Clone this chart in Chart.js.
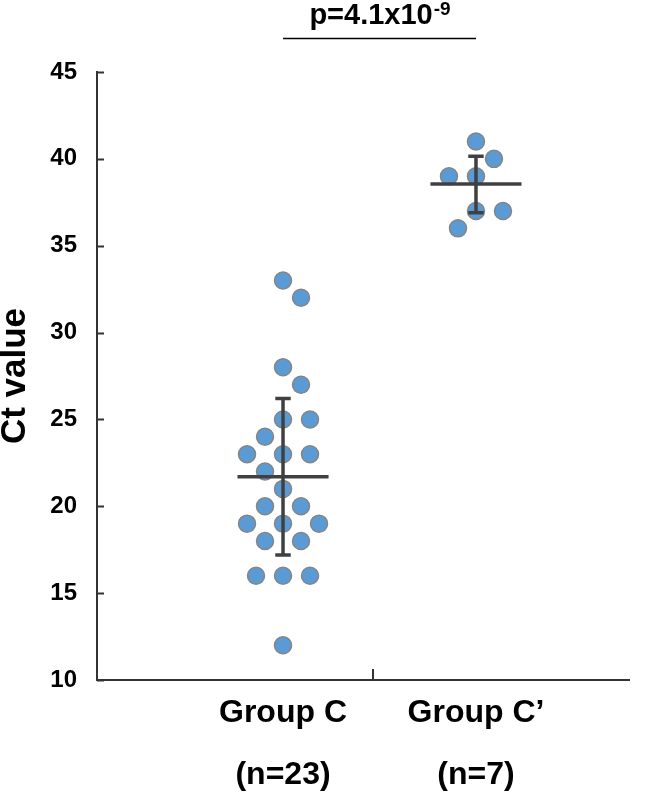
<!DOCTYPE html>
<html>
<head>
<meta charset="utf-8">
<script src="https://cdn.jsdelivr.net/npm/chart.js@4.4.1/dist/chart.umd.min.js"></script>
<style>
  html, body { margin: 0; padding: 0; background: #fff; }
  canvas { display: block; }
</style>
</head>
<body>
<canvas id="ct-chart" width="653" height="795"></canvas>
<script>
// ─── DATA ─────────────────────────────────────────────────────────────────────
const groupNames  = ['Group C', 'Group C\u2019'];
const groupCounts = ['(n=23)', '(n=7)'];
const groupC      = [33, 32, 28, 27, 25, 25, 24, 23, 23, 23, 22, 21, 20, 20, 19, 19, 19, 18, 18, 16, 16, 16, 12];
const groupCprime = [41, 40, 39, 39, 37, 37, 36];
const groupMeans  = [21.7, 38.55];
const sdLow       = [17.2, 36.9];
const sdHigh      = [26.2, 40.15];
const yTicks      = [10, 15, 20, 25, 30, 35, 40, 45];
const pText       = 'p=4.1x10';
const pExponent   = '-9';

const FONT = '"Liberation Sans", Arial, Helvetica, sans-serif';
const INK  = '#404040';
const MEAN_HALF = 0.236;   // half width of mean bar, x units
const CAP_HALF  = 0.04;    // half width of SD caps, x units
const MID_TICK  = 1.466;   // the single x-axis tick between the groups

const allGroups = [groupC, groupCprime];

// mean + SD bars as line datasets (null breaks the path)
function meanSdData(i) {
  const c = i + 1;
  return [
    { x: c - MEAN_HALF, y: groupMeans[i] }, { x: c + MEAN_HALF, y: groupMeans[i] }, { x: c, y: null },
    { x: c - CAP_HALF, y: sdHigh[i] }, { x: c + CAP_HALF, y: sdHigh[i] }, { x: c, y: null },
    { x: c, y: sdHigh[i] }, { x: c, y: sdLow[i] }, { x: c, y: null },
    { x: c - CAP_HALF, y: sdLow[i] }, { x: c + CAP_HALF, y: sdLow[i] },
  ];
}

// simple beeswarm in pixel space so dots at close values spread sideways
function swarm(values, center, chart, diam, step) {
  const xs = chart.scales.x, ys = chart.scales.y;
  const cx = xs.getPixelForValue(center);
  const placed = [];
  const out = new Array(values.length);
  const order = values.map((v, i) => i).sort((a, b) => values[b] - values[a]);
  order.forEach(i => {
    const py = ys.getPixelForValue(values[i]);
    for (let k = 0; k < 40; k++) {
      const off = k === 0 ? 0 : (k % 2 ? 1 : -1) * Math.ceil(k / 2) * step;
      const px = cx + off;
      if (placed.every(p => (p[0] - px) ** 2 + (p[1] - py) ** 2 >= diam * diam - 0.5)) {
        placed.push([px, py]);
        out[i] = { x: xs.getValueForPixel(px), y: values[i] };
        break;
      }
    }
  });
  return out;
}

const decorations = {
  id: 'decorations',
  afterDraw(chart) {
    const { ctx, chartArea: { left, bottom }, scales: { x, y } } = chart;
    ctx.save();
    ctx.strokeStyle = '#333';
    ctx.lineWidth = 2;
    // inward y ticks
    yTicks.forEach(v => {
      const py = Math.round(y.getPixelForValue(v)) + 0.5;
      ctx.beginPath(); ctx.moveTo(left, py); ctx.lineTo(left + 7, py); ctx.stroke();
    });
    // the lone x tick
    const mx = Math.round(x.getPixelForValue(MID_TICK));
    ctx.beginPath(); ctx.moveTo(mx, bottom); ctx.lineTo(mx, bottom - 11); ctx.stroke();

    // significance bracket
    const x1 = x.getPixelForValue(1), x2 = x.getPixelForValue(2);
    ctx.strokeStyle = '#000';
    ctx.lineWidth = 1.3;
    ctx.beginPath(); ctx.moveTo(x1, 38.5); ctx.lineTo(x2, 38.5); ctx.stroke();

    ctx.fillStyle = '#000';
    ctx.textBaseline = 'alphabetic';
    ctx.font = 'bold 29px ' + FONT;
    const w1 = ctx.measureText(pText).width;
    ctx.font = 'bold 19px ' + FONT;
    const w2 = ctx.measureText(pExponent).width;
    const sx = (x1 + x2) / 2 - (w1 + w2) / 2;
    ctx.font = 'bold 29px ' + FONT;
    ctx.textAlign = 'left';
    ctx.fillText(pText, sx, 24);
    ctx.font = 'bold 19px ' + FONT;
    ctx.fillText(pExponent, sx + w1 + 1, 15);
    ctx.restore();
  },
};

const chart = new Chart(document.getElementById('ct-chart'), {
  type: 'scatter',
  data: {
    datasets: [
      ...groupMeans.map((m, i) => ({
        type: 'line',
        data: meanSdData(i),
        borderColor: INK,
        borderWidth: 3.5,
        pointRadius: 0,
        spanGaps: false,
        order: 0,
      })),
      ...allGroups.map((vals, i) => ({
        label: groupNames[i],
        data: vals.map(v => ({ x: i + 1, y: v })),
        backgroundColor: '#5b9bd5',
        borderColor: '#858585',
        borderWidth: 1.5,
        pointRadius: 8.5,
        order: 1,
      })),
    ],
  },
  options: {
    responsive: false,
    animation: false,
    events: [],
    layout: { padding: { top: 72, right: 24, left: 0, bottom: 0 } },
    plugins: { legend: { display: false }, tooltip: { enabled: false } },
    scales: {
      x: {
        type: 'linear',
        min: 0.036,
        max: 2.793,
        afterBuildTicks: s => { s.ticks = groupNames.map((g, i) => ({ value: i + 1 })); },
        afterFit: s => { s.height = 115; },
        grid: { display: false, drawTicks: false },
        border: { display: true, color: '#333', width: 2 },
        ticks: {
          autoSkip: false,
          maxRotation: 0,
          padding: 2,
          color: '#000',
          font: { family: FONT, size: 32, weight: 'bold', lineHeight: 1.94 },
          callback: v => [groupNames[v - 1], groupCounts[v - 1]],
        },
      },
      y: {
        min: 10,
        max: 45,
        afterBuildTicks: s => { s.ticks = yTicks.map(v => ({ value: v })); },
        afterFit: s => { s.width = 97; },
        grid: { display: false, drawTicks: false },
        border: { display: true, color: '#333', width: 2 },
        ticks: {
          padding: 20,
          color: '#000',
          font: { family: FONT, size: 24, weight: 'bold' },
        },
        title: {
          display: true,
          text: 'Ct value',
          color: '#000',
          padding: { top: 0, bottom: 0 },
          font: { family: FONT, size: 35, weight: 'bold', lineHeight: 0.9 },
        },
      },
    },
  },
  plugins: [decorations],
});

// place the dots as a swarm once the scales are known
allGroups.forEach((vals, i) => {
  chart.data.datasets[groupMeans.length + i].data = swarm(vals, i + 1, chart, 24, 9);
});
chart.update('none');
</script>
</body>
</html>
